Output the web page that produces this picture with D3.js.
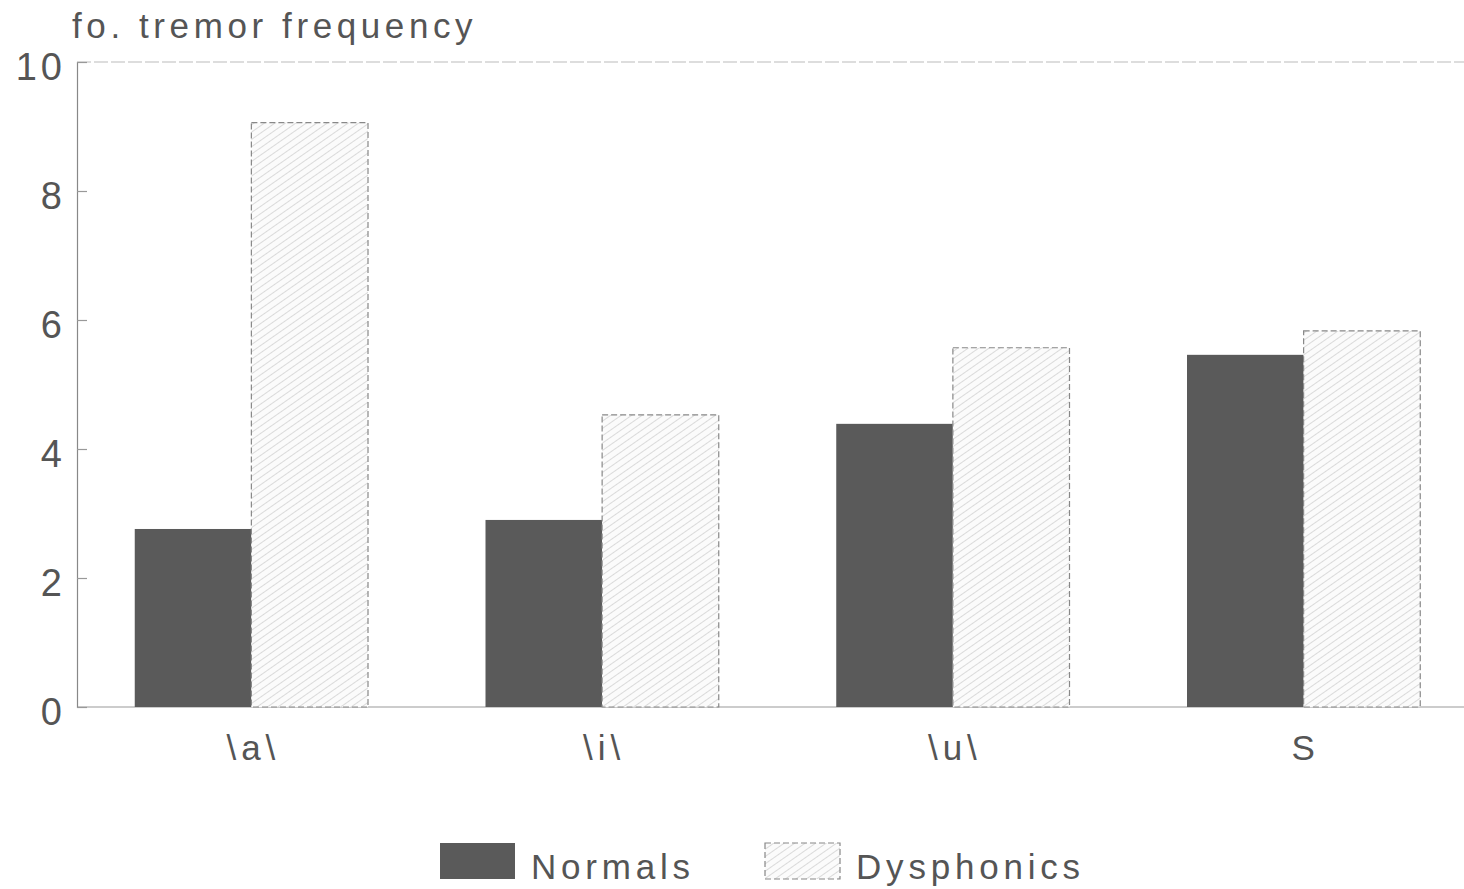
<!DOCTYPE html>
<html>
<head>
<meta charset="utf-8">
<script src="https://cdn.jsdelivr.net/npm/d3@7"></script>
<style>
  html, body { margin: 0; padding: 0; background: #fff; }
  svg { display: block; }
  text { font-family: "Liberation Sans", Arial, sans-serif; fill: #555; }
</style>
</head>
<body>
<svg id="chart" width="1464" height="889"></svg>
<script>
const categories = ["\\a\\", "\\i\\", "\\u\\", "S"];
const seriesNames = ["Normals", "Dysphonics"];
const normals = [2.76, 2.9, 4.39, 5.46];
const dysphonics = [9.06, 4.53, 5.57, 5.83];
const yTicks = [0, 2, 4, 6, 8, 10];
const title = "fo. tremor frequency";

(function () {
const svg = d3.select("#chart");
const W = 1464;
const mLeft = 77, mTop = 62, mBottom = 707;

const defs = svg.append("defs");
const pat = defs.append("pattern")
  .attr("id", "hatch").attr("patternUnits", "userSpaceOnUse")
  .attr("width", 6).attr("height", 6)
  .attr("patternTransform", "rotate(55)");
pat.append("rect").attr("width", 6).attr("height", 6).attr("fill", "#fbfbfb");
pat.append("line").attr("x1", 0).attr("y1", 0).attr("x2", 0).attr("y2", 6)
  .attr("stroke", "#d2d2d2").attr("stroke-width", 1.6);

const x0 = d3.scaleBand().domain(categories).range([76, 1479])
  .paddingInner(0.335).paddingOuter(0.1675);
const x1 = d3.scaleBand().domain(seriesNames).range([0, x0.bandwidth()]);
const y = d3.scaleLinear().domain([0, 10]).range([mBottom, mTop]);

// frame lines
svg.append("line").attr("x1", mLeft).attr("x2", W).attr("y1", mTop).attr("y2", mTop)
  .attr("stroke", "#bbb").attr("stroke-width", 1.2).attr("stroke-dasharray", "14,3");
svg.append("line").attr("x1", mLeft).attr("x2", W).attr("y1", mBottom).attr("y2", mBottom)
  .attr("stroke", "#999").attr("stroke-width", 1.2);

// y axis
const yAxis = d3.axisLeft(y).tickValues(yTicks).tickSize(-10).tickPadding(11).tickFormat(d3.format("d"));
const ya = svg.append("g").attr("transform", `translate(${mLeft},0)`).call(yAxis);
ya.select(".domain").attr("stroke", "#888").attr("stroke-width", 1.2);
ya.selectAll(".tick line").attr("stroke", "#999").attr("stroke-width", 1.2);
ya.selectAll(".tick text").style("font-size", "38px").style("letter-spacing", "4px")
  .attr("fill", "#555").attr("dy", "0.45em")
  .style("font-family", "'Liberation Sans', Arial, sans-serif");

// bars
const data = categories.map((c, i) => ({ c, vals: [normals[i], dysphonics[i]] }));
const g = svg.append("g");
data.forEach(d => {
  g.append("rect")
    .attr("x", x0(d.c) + x1("Normals")).attr("width", x1.bandwidth())
    .attr("y", y(d.vals[0])).attr("height", y(0) - y(d.vals[0]))
    .attr("fill", "#5a5a5a");
  g.append("rect")
    .attr("x", x0(d.c) + x1("Dysphonics")).attr("width", x1.bandwidth())
    .attr("y", y(d.vals[1])).attr("height", y(0) - y(d.vals[1]))
    .attr("fill", "url(#hatch)")
    .attr("stroke", "#888").attr("stroke-width", 1.2).attr("stroke-dasharray", "6,3");
});

// x axis labels
svg.append("g").selectAll("text").data(categories).join("text")
  .attr("x", d => x0(d) + x0.bandwidth() / 2 + 2)
  .attr("y", 760)
  .attr("text-anchor", "middle")
  .style("font-size", "35px")
  .style("letter-spacing", "5px")
  .text(d => d);

// title
svg.append("text").attr("x", 72).attr("y", 38)
  .style("font-size", "35px").style("letter-spacing", "4.6px")
  .text(title);

// legend
const legendX = [440, 765];
const lg = svg.append("g");
seriesNames.forEach((s, i) => {
  lg.append("rect").attr("x", legendX[i]).attr("y", 843).attr("width", 75).attr("height", 36)
    .attr("fill", i === 0 ? "#5a5a5a" : "url(#hatch)")
    .attr("stroke", i === 0 ? "none" : "#888").attr("stroke-width", 1.2)
    .attr("stroke-dasharray", "6,3");
  lg.append("text").attr("x", legendX[i] + 91).attr("y", 879)
    .style("font-size", "35px").style("letter-spacing", "4.8px")
    .text(s);
});
})();
</script>
</body>
</html>
